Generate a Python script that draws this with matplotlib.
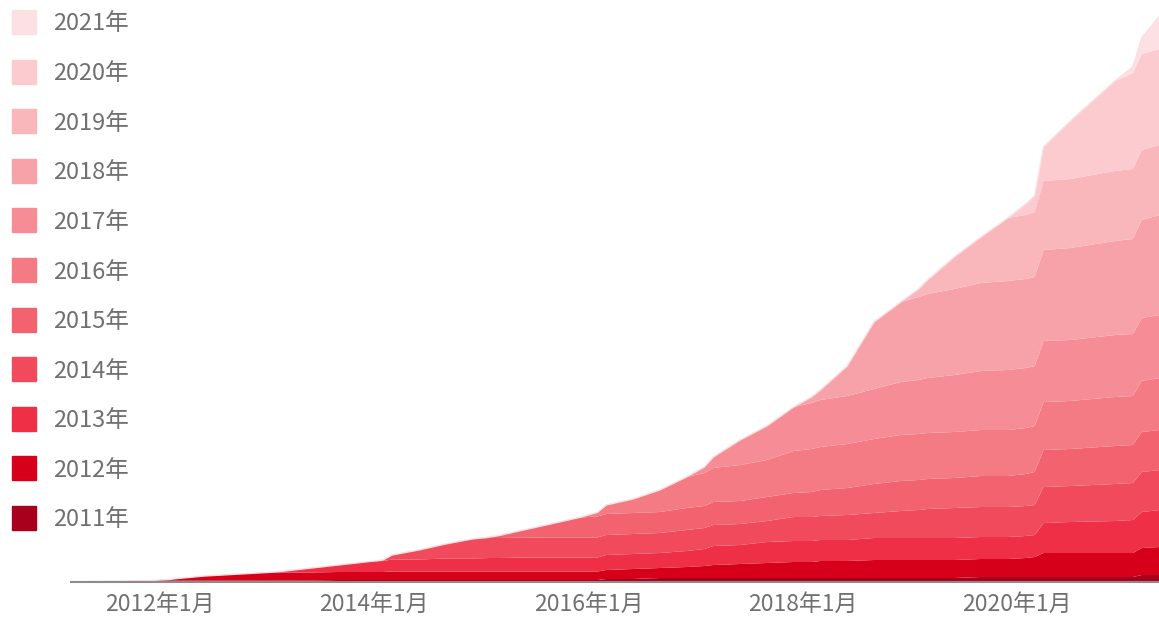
import matplotlib
matplotlib.use('Agg')
import matplotlib.pyplot as plt
from matplotlib.patches import Rectangle

plt.rcParams['font.family'] = ['Noto Sans CJK SC', 'DejaVu Sans']

# sample months of the series
months = ['2011-03', '2011-06', '2011-09', '2011-12',
          '2012-02', '2012-03', '2012-06', '2012-09', '2012-12',
          '2013-02', '2013-03', '2013-06', '2013-09', '2013-12',
          '2014-02', '2014-03', '2014-06', '2014-09', '2014-12',
          '2015-02', '2015-03', '2015-06', '2015-09', '2015-12',
          '2016-02', '2016-03', '2016-06', '2016-09', '2016-12',
          '2017-02', '2017-03', '2017-06', '2017-09', '2017-12',
          '2018-02', '2018-03', '2018-06', '2018-09', '2018-12',
          '2019-02', '2019-03', '2019-06', '2019-09', '2019-12',
          '2020-02', '2020-03', '2020-04', '2020-07', '2020-12',
          '2021-02', '2021-03', '2021-05']

# each cohort, from its first sample month on
c2011 = [0.3, 0.6, 1.0, 1.5,
         1.5, 1.5, 1.5, 1.5, 1.5,
         1.5, 1.5, 1.5, 2, 2,
         2, 2, 2, 2, 2,
         2, 2, 2, 2, 2,
         2, 3, 3, 4, 4,
         4, 4, 4, 4, 4,
         4, 4, 4, 4, 4,
         4, 4, 4, 5, 5,
         5, 5, 5, 5, 5,
         5, 7, 7]
c2012 = [1, 2, 4.5, 6, 7.5,
         7.5, 8, 8, 8, 8,
         8, 8.5, 8.5, 8.5, 8.5,
         8.5, 8.5, 8.5, 8.5, 8.5,
         8.5, 9, 10, 10, 11,
         12, 13, 14, 15, 16,
         16, 17, 17, 18, 18,
         18, 18, 18, 18, 18,
         19, 20, 24, 24, 24,
         24, 27, 28]
c2013 = [1, 1.5, 4.5, 7, 10,
         11, 12, 12, 13, 13,
         13.5, 13.5, 14, 14, 14,
         14, 15, 15, 15, 16,
         17, 19, 19, 21, 21,
         21, 21, 21, 22, 22,
         22, 22, 22, 22, 22,
         22, 22, 30, 31, 32,
         33, 36, 37]
c2014 = [1, 4.5, 9.5, 14.5, 19.5,
         20, 20, 20, 20, 20,
         20, 20, 20, 20, 21,
         21, 21, 21, 21, 24,
         24, 24, 25, 25, 27,
         28, 29, 30, 30, 30,
         30, 30, 36, 36, 37,
         37, 40, 40]
c2015 = [1, 2.5, 8, 14, 20,
         21, 21, 21, 21, 22,
         22, 23, 23, 24, 24,
         25, 26, 27, 29, 30,
         30, 30, 30, 31, 31,
         32, 33, 37, 37, 38,
         38, 40, 40]
c2016 = [4, 9, 14, 22, 31,
         33, 34, 36, 37, 42,
         43, 43, 44, 45, 46,
         46, 46, 46, 46, 46,
         46, 46, 48, 48, 49,
         49, 51, 52]
c2017 = [6, 11, 25, 34, 44,
         46, 47, 48, 50, 53,
         54, 55, 57, 59, 60,
         60, 60, 61, 61, 62,
         62, 63, 63]
c2018 = [6, 10, 30, 67, 80,
         83, 84, 86, 88, 89,
         89, 89, 91, 92, 94,
         95, 98, 100]
c2019 = [8, 14, 32, 46, 63,
         64, 65, 69, 69, 70,
         70, 70, 70]
c2020 = [11, 16, 34, 58, 90,
         96, 96, 96]
c2021 = [6, 16, 33]

cohorts = ['2011年', '2012年', '2013年', '2014年', '2015年', '2016年',
           '2017年', '2018年', '2019年', '2020年', '2021年']
colors = ['#a8001c', '#d7001a', '#ee2f45', '#f04a5c', '#f2626f', '#f47a84',
          '#f68d96', '#f7a2a9', '#f9b7bc', '#fbcbcf', '#fde0e3']
tick_years = [2012, 2014, 2016, 2018, 2020]
tick_labels = ['2012年1月', '2014年1月', '2016年1月', '2018年1月', '2020年1月']

t = [int(m[:4]) + (int(m[5:]) - 1) / 12 for m in months]
n = len(t)
series = [c2011, c2012, c2013, c2014, c2015, c2016,
          c2017, c2018, c2019, c2020, c2021]
rows = [[0] * (n - len(s)) + s for s in series]
total = [sum(r[i] for r in rows) for i in range(n)]

W, H = 1159, 619
fig = plt.figure(figsize=(W / 100, H / 100), dpi=100)
ax = fig.add_axes([70.8 / W, 37 / H, (1159.6 - 70.8) / W, 582 / H])

ax.stackplot(t, rows, colors=colors, linewidth=0)
ax.plot(t, total, color='#fbdfe2', lw=1.0)

ax.set_xlim(2011 + 2 / 12, 2021 + 4 / 12)
ax.set_ylim(0, 582)
for s in ['left', 'right', 'top']:
    ax.spines[s].set_visible(False)
ax.spines['bottom'].set_color('#8c8c8c')
ax.spines['bottom'].set_linewidth(1.5)
ax.set_yticks([])
ax.set_xticks(tick_years, tick_labels)
ax.tick_params(axis='x', length=0, pad=8, labelsize=16.5, labelcolor='#707070')

# legend, newest cohort on top
for i, name in enumerate(reversed(cohorts)):
    yc = 22 + i * 49.6
    col = colors[len(cohorts) - 1 - i]
    fig.patches.append(Rectangle((12 / W, 1 - (yc + 12) / H), 24 / W, 24 / H,
                                 transform=fig.transFigure, color=col))
    fig.text(53 / W, 1 - (yc + 2) / H, name, va='center', ha='left',
             fontsize=17, color='#707070')

fig.savefig('out.png', dpi=100)
